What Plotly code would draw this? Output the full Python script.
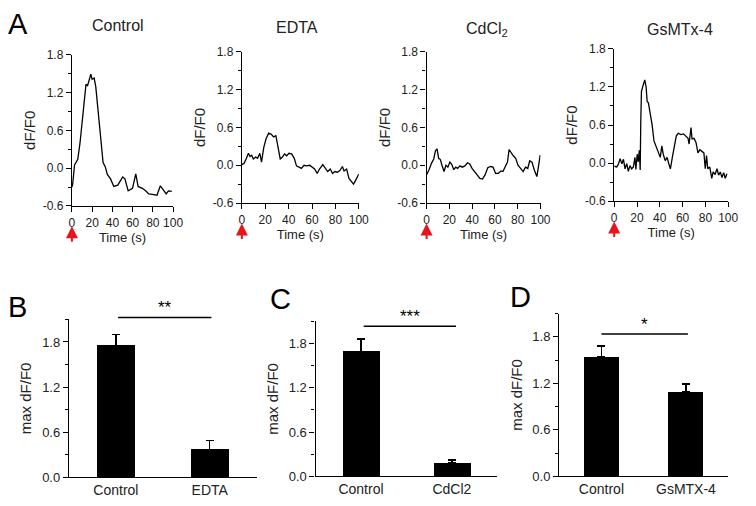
import plotly.graph_objects as go

FONT = "Arial, Liberation Sans, sans-serif"

# ---- panel A: calcium traces, time (s) vs dF/F0 ----
ctrl_t = [0, 0.7, 2.6, 5.8, 8, 11.3, 13.9, 15.5, 16.8, 18.7, 20, 22, 23.6, 25.9, 28.5,
          30.8, 33, 35, 38.2, 41.4, 45.3, 50.2, 52.4, 55.6, 59.9, 63.1, 65.4, 69.6, 72.8,
          76, 80.9, 84.1, 87.4, 90.6, 93.2, 95.4, 98.7]
ctrl_v = [-0.3, -0.26, 0.05, 0.14, 0.40, 0.98, 1.33, 1.31, 1.38, 1.49, 1.41, 1.43, 1.29, 0.87, 0.51,
          0.09, 0.02, -0.10, -0.17, -0.29, -0.27, -0.14, -0.17, -0.36, -0.32, -0.09, -0.29, -0.32, -0.36,
          -0.41, -0.42, -0.43, -0.28, -0.36, -0.41, -0.36, -0.37]

edta_t = [0, 1.9, 3.9, 5.6, 7, 8.4, 9.8, 11.8, 13.4, 15.4, 16.8, 18.7, 20.7, 22.9, 25.2, 27.1,
          29.1, 30.8, 32.8, 34.7, 36.4, 38.3, 40.3, 42.5, 44.8, 46.7, 48.7, 50.9, 53.2, 55.1,
          58, 59.9, 62.2, 64.4, 66.4, 69.2, 71.1, 73.4, 75.6, 77.6, 79.5, 81.8, 84, 86, 87.4,
          89.6, 91.6, 93.5, 95.5, 97.3, 100]
edta_v = [0.01, 0.03, 0.11, 0.19, 0.14, 0.16, 0.10, 0.13, 0.11, 0.19, 0.05, 0.28, 0.42, 0.51, 0.49, 0.45,
          0.47, 0.28, 0.10, 0.13, 0.18, 0.15, 0.19, 0.18, 0.11, -0.01, -0.03, -0.05, 0.0, -0.01,
          0.0, -0.03, -0.06, -0.13, -0.06, 0.01, -0.05, -0.10, -0.06, -0.13, -0.10, -0.11, -0.08, -0.02, -0.09,
          -0.06, -0.21, -0.25, -0.30, -0.24, -0.14]

cd_t = [0, 2, 4.3, 6.3, 7.8, 9.2, 10.6, 12.1, 13.5, 15.3, 17, 18.7, 20.4, 22.2, 23.9, 25.6,
        27.3, 29.3, 31.3, 33.6, 35.9, 37.9, 39.9, 42.2, 44.6, 46.8, 49.1, 51.4, 53.7, 56,
        58.3, 60.6, 62.9, 65.3, 67, 68.7, 71, 72.4, 74.4, 76.1, 78.2, 80.2, 82.5, 84.7,
        86.8, 88.8, 90.5, 92.5, 94.6, 96.8, 99.7]
cd_v = [-0.15, -0.08, 0.03, 0.10, 0.23, 0.26, 0.11, 0.09, 0.0, -0.10, 0.0, -0.03, 0.05, 0.01, -0.07, -0.03,
        -0.05, -0.01, -0.03, -0.01, 0.04, 0.02, -0.05, -0.10, -0.15, -0.21, -0.22, -0.15, -0.04, -0.02,
        -0.03, -0.13, -0.13, -0.09, -0.10, -0.04, 0.05, 0.25, 0.19, 0.15, 0.11, 0.0, -0.05, -0.10,
        -0.03, -0.05, 0.07, 0.05, -0.08, -0.18, 0.16]

gs_t = [0, 2.3, 3.8, 5.2, 6.7, 8.1, 9.5, 11, 12.4, 13.8, 15.3, 16.8, 18.2, 19, 20.2, 21.1, 22,
        22.8, 23.3, 23.9, 25.4, 26.8, 28, 28.9, 30, 31.4, 33.2, 34.9, 36.9, 38.9, 40.4, 41.8,
        43, 44.7, 46.4, 47.9, 49.3, 51, 52.7, 54.5, 56.2, 58.5, 60.8, 62.8, 64.8, 65.7, 66.6,
        67.4, 68.3, 70, 71.7, 73.5, 75.2, 76.9, 78.7, 79.9, 81, 82.1, 83.8, 85.6, 86.8, 88.5,
        90.2, 91.6, 93.1, 94.6, 96, 97.4, 98.9]
gs_v = [-0.05, -0.06, -0.01, 0.07, -0.01, 0.06, -0.09, -0.01, -0.13, -0.04, -0.09, -0.06, 0.09, -0.10, 0.14, 0.02, 0.20,
        -0.11, 0.64, 1.13, 1.23, 1.31, 1.20, 0.97, 0.95, 0.82, 0.61, 0.35, 0.25, 0.13, 0.09, 0.27,
        0.14, 0.04, 0.09, -0.01, -0.09, 0.09, 0.27, 0.43, 0.47, 0.45, 0.46, 0.43, 0.39, 0.30, 0.43,
        0.56, 0.38, 0.39, 0.33, 0.16, 0.21, 0.18, 0.16, -0.09, 0.12, -0.09, -0.06, -0.24, -0.14, -0.18,
        -0.09, -0.19, -0.14, -0.23, -0.15, -0.24, -0.17]

trace_titles = ["Control", "EDTA", "CdCl<sub>2</sub>", "GsMTx-4"]
trace_yticks = [-0.6, 0.0, 0.6, 1.2, 1.8]
trace_ytext = ["-0.6", "0.0", "0.6", "1.2", "1.8"]

# ---- panels B-D: peak dF/F0 (mean + SEM) ----
b_groups = ["Control", "EDTA"]
b_mean = [1.75, 0.37]
b_sem = [0.15, 0.12]
c_groups = ["Control", "CdCl2"]
c_mean = [1.69, 0.18]
c_sem = [0.17, 0.04]
d_groups = ["Control", "GsMTX-4"]
d_mean = [1.54, 1.09]
d_sem = [0.14, 0.10]
sig_marks = ["**", "***", "*"]

# the page body has an 8px margin, so the figure is drawn 8px in from the corner
W, H, OFF = 740, 490, 8


def px(x):
    return (x - OFF) / W


def py(y):
    return 1 - (y - OFF) / H


fig = go.Figure()

# trace panels: x left, x right, y top, y bottom (page pixels)
trace_boxes = [(70, 173, 49, 205), (243, 362, 46, 202), (431, 547, 46, 202), (622, 738, 43, 200)]
title_pos = [(117, 19), (299, 21), (493, 23), (689, 23)]
traces = [(ctrl_t, ctrl_v), (edta_t, edta_v), (cd_t, cd_v), (gs_t, gs_v)]

for i, ((t, v), box) in enumerate(zip(traces, trace_boxes)):
    n = i + 1
    fig.add_trace(go.Scatter(x=t, y=v, mode="lines", line=dict(color="black", width=1.3),
                             xaxis=f"x{n}", yaxis=f"y{n}", showlegend=False))
    axis_common = dict(showline=True, linecolor="black", linewidth=1.3, ticks="outside",
                       tickcolor="black", tickwidth=1.3, ticklen=5, showgrid=False, zeroline=False,
                       tickfont=dict(size=12, color="#222"))
    fig.layout[f"xaxis{n}"] = dict(domain=[px(box[0]), px(box[1])], range=[0, 100], anchor=f"y{n}",
                                   tickmode="linear", tick0=0, dtick=20,
                                   title=dict(text="Time (s)", font=dict(size=13), standoff=0),
                                   **axis_common)
    fig.layout[f"yaxis{n}"] = dict(domain=[py(box[3]), py(box[2])], range=[-0.6, 1.8], anchor=f"x{n}",
                                   tickmode="array", tickvals=trace_yticks, ticktext=trace_ytext,
                                   minor=dict(tickmode="linear", dtick=0.3, tick0=0, ticks="outside",
                                              ticklen=3, tickcolor="black", tickwidth=1.2),
                                   title=dict(text="dF/F0", font=dict(size=15), standoff=3),
                                   **axis_common)
    fig.add_annotation(x=0, xref=f"x{n}", y=py(box[3] + 21), yref="paper", text="", showarrow=True,
                       ax=0, ay=17, arrowhead=2, arrowsize=1.2, arrowwidth=2, arrowcolor="#e8141c")
    fig.add_annotation(x=px(title_pos[i][0]), y=py(title_pos[i][1]), xref="paper", yref="paper",
                       xanchor="center", yanchor="middle",
                       text=trace_titles[i], showarrow=False, font=dict(size=16, color="#222"))

# bar panels
bar_boxes = [(67, 258, 322, 485), (318, 503, 324, 484), (566, 738, 316, 484)]
bar_sets = [(b_groups, b_mean, b_sem), (c_groups, c_mean, c_sem), (d_groups, d_mean, d_sem)]
sig_lines = [(117, 212, 320), (367, 461, 329), (609, 697, 337)]
letters = [("A", 15, 17), ("B", 15, 309), ("C", 282, 301), ("D", 527, 299)]

for j, ((groups, mean, sem), box) in enumerate(zip(bar_sets, bar_boxes)):
    n = j + 5
    fig.add_trace(go.Bar(x=groups, y=mean, width=0.41, marker=dict(color="black", line=dict(width=0)),
                         error_y=dict(type="data", array=sem, arrayminus=[0] * len(sem), symmetric=False,
                                      color="black", thickness=1.5, width=4),
                         xaxis=f"x{n}", yaxis=f"y{n}", showlegend=False))
    fig.layout[f"xaxis{n}"] = dict(domain=[px(box[0]), px(box[1])], range=[-0.5, 1.5], anchor=f"y{n}",
                                   type="category", showline=True, linecolor="black", linewidth=1.3,
                                   ticks="", showgrid=False, tickfont=dict(size=14, color="#222"))
    fig.layout[f"yaxis{n}"] = dict(domain=[py(box[3]), py(box[2])], range=[0, 2.1], anchor=f"x{n}",
                                   showline=True, linecolor="black", linewidth=1.3, ticks="outside",
                                   tickcolor="black", tickwidth=1.3, ticklen=5, showgrid=False,
                                   zeroline=False, tickmode="linear", tick0=0, dtick=0.6, tickformat=".1f",
                                   minor=dict(dtick=0.3, tick0=0, ticks="outside", ticklen=3,
                                              tickcolor="black", tickwidth=1.2),
                                   tickfont=dict(size=13, color="#222"),
                                   title=dict(text="max dF/F0", font=dict(size=15), standoff=6))
    sx0, sx1, sy = sig_lines[j]
    fig.add_shape(type="line", xref="paper", yref="paper", x0=px(sx0), x1=px(sx1), y0=py(sy), y1=py(sy),
                  line=dict(color="black", width=1.5))
    fig.add_annotation(x=px((sx0 + sx1) / 2), y=py(sy - 10), xref="paper", yref="paper",
                       xanchor="center", yanchor="middle", text=sig_marks[j],
                       showarrow=False, font=dict(size=17, color="black"))

for letter, lx, ly in letters:
    fig.add_annotation(x=px(lx), y=py(ly), xref="paper", yref="paper", text=letter, showarrow=False,
                       xanchor="center", yanchor="middle", font=dict(size=29, color="black"))

fig.update_layout(width=W, height=H, margin=dict(l=0, r=0, t=0, b=0),
                  paper_bgcolor="white", plot_bgcolor="white",
                  font=dict(family=FONT, color="#222"), bargap=0)

fig.write_html("out.html")
